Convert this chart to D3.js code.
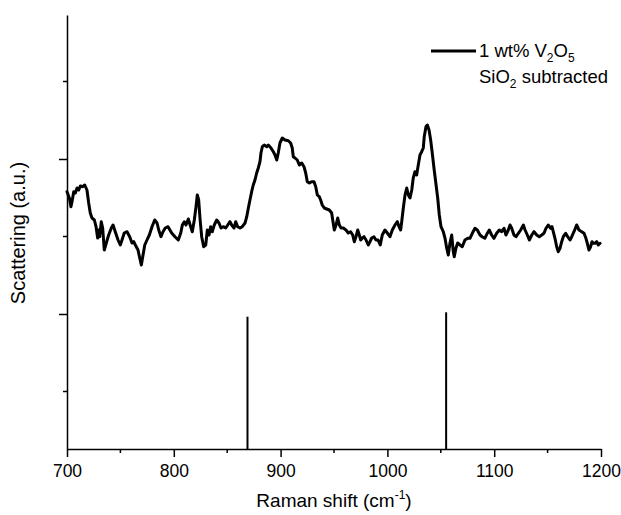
<!DOCTYPE html>
<html>
<head>
<meta charset="utf-8">
<script src="https://cdn.jsdelivr.net/npm/d3@7"></script>
<style>
  html, body { margin: 0; padding: 0; background: #fff; }
  svg { display: block; }
  text { font-family: "Liberation Sans", Arial, sans-serif; fill: #000; }
</style>
</head>
<body>
<svg id="chart" width="621" height="515"></svg>
<script>
// ---- data ----
const ramanShift = [700,702.2,703.7,704.7,706.3,707.8,709.4,711,712.5,714.7,716.6,718.7,720.3,721.8,723.4,725.6,727.2,728.7,729.7,730.6,732.1,733.4,734.9,736.8,739,741.5,743.1,745.2,747.8,749.9,751.5,753.6,756.2,758.7,760.9,762.5,764,766.5,768.1,769.6,771.2,772.8,774.9,777.1,779.6,782.1,784.3,785.9,788,789.9,792,794.6,798,801.1,804.2,806.5,808,809.8,811.4,813.6,815.8,817.3,819.2,820.8,822,823.3,824.5,826.1,828,829.9,831.4,833,834.5,836,837.9,840.2,842.3,844.2,846.3,848.6,850.5,852.6,854.2,856.4,858,859.8,862,864.1,866.7,868.3,869.8,871.3,872.9,874.4,876,877.6,879.1,880.7,881.6,882.9,884.7,887,888.5,891,893.2,894.8,896.4,897.8,899.4,901.6,904.1,907.2,909.4,910.9,911.9,913.5,915.6,917.5,919.8,921.9,923.5,925,926.9,929.1,931.3,932.9,934.4,936.2,937.5,939,940.9,943.2,945.6,947.8,948.8,950.3,951.9,953.5,955,956.6,958.7,961.2,963.4,965.6,967.5,969,970.6,972.2,973.7,975,976.5,978.1,980,982.1,983.7,985.3,987.4,989.3,991.2,993.3,995.2,997.7,999.9,1002.4,1004.6,1007.1,1009.3,1010.9,1012.4,1013.4,1014.9,1016.5,1018.1,1019.6,1021.2,1022.8,1024.2,1025.8,1027.4,1028.9,1030.5,1032.1,1033.6,1034.5,1036.1,1037.4,1039,1040.5,1042,1043.6,1045.2,1047.1,1048.6,1050.2,1052.3,1053.9,1055.5,1057,1058.6,1060.2,1061.7,1062.6,1064.2,1065.8,1068,1070.1,1072.6,1075.2,1077.3,1079.5,1082,1084.2,1086.7,1089,1091.2,1093.5,1095.4,1097.6,1099.8,1102.3,1104.8,1107,1109.2,1111,1113.2,1114.8,1116.4,1118.5,1120.4,1122.6,1124.8,1127.3,1128.9,1131,1132.9,1135.2,1137.3,1139.8,1142.2,1144.5,1146.6,1148.5,1150.6,1152.9,1154.1,1155.3,1156.9,1158.5,1160,1161.6,1163.2,1164.7,1166.9,1168.8,1171,1172.6,1174.7,1177.2,1179.4,1181.9,1184.1,1185.9,1187.2,1188.7,1190.3,1191.6,1192.8,1194.4,1196,1197.5,1199.1];
const scattering = [122.3,116,107.3,112.3,122.3,121,126,124,128,127.3,129,124,111,101,96,94,87.3,76,84,77.3,92.3,86,64,71,79,86,89,82.3,74,69,74,81,82.3,77.3,71,72.3,69,64,56,49,59,69,74,79,87.3,94,91,84,77.3,82.3,86,87.3,81,77.3,74,81,89,92.3,89,95,87.3,82.3,94,107.3,119,114,96,77.3,67.3,69,84,79,87.3,82.3,89,94,91,86,87.3,86,89,92.3,89,86,92.3,87.3,86,87.3,91,97.3,106,114,122.3,129,134,141,146,152.3,161,167.3,169,167.3,169,166,162.3,159,154,161,171,176,174,173.3,171,166,157.3,156,154,149,151,147.3,141,132.3,131,132.3,132.3,127.3,119,117.3,114,109,106,105,104,101,94,84,89,96,89,86,86,84,81,82.3,79,72.3,77.3,84,79,74,76,77.3,74,69,72.3,76,77.3,74,74,69,79,84,81,77.3,84,89,92.3,87.3,84,92.3,106,119,126,119,116,124,136,142.3,139,149,159,162.3,166,177.3,187.3,189,184,174,161,146,132.3,116,99,87.3,82.3,76,66,59,71,79,62.3,57.3,66,71,69,67.3,74,75.7,75.7,80.7,85.7,84,79,77,75.7,80.7,84,79,75.7,80.7,84,82.3,85.7,79,84,89,85.7,79,77.3,80.7,84,89,84,79,74,79,82.3,79,77.3,79,80.7,85.7,89,85.7,87.3,82.3,75.7,67.3,62.3,65.7,72.3,77.3,80.7,77.3,74,77.3,82.3,89,84,82.3,80.7,75.7,70.7,64,67.3,72.3,70.7,70.7,72.3,69,70.7];
// reference bulk V2O5 band positions (stick lines) and their heights
const stickShift = [869, 1055];
const stickHeight = [-2.7, 1.7];
const xTicksMajor = [700, 800, 900, 1000, 1100, 1200];
const xTicksMinor = [750, 850, 950, 1050, 1150];
const yTicksMajor = [0, 155];
const yTicksMinor = [-77.5, 77.5, 232.5];
const xDomain = [700, 1200];
const yDomain = [-135, 299];
const legendLine1 = ["1 wt% V", "2", "O", "5"];
const legendLine2 = ["SiO", "2", " subtracted"];

// ---- drawing ----
const svg = d3.select("#chart");
const x = d3.scaleLinear().domain(xDomain).range([67, 601]);
const y = d3.scaleLinear().domain(yDomain).range([449, 15]);

// plot data
const pts = ramanShift.map((d, i) => [d, scattering[i]]);
const line = d3.line().x(d => x(d[0])).y(d => y(d[1]));
svg.append("path")
  .datum(pts)
  .attr("d", line)
  .attr("fill", "none")
  .attr("stroke", "#000")
  .attr("stroke-width", 3)
  .attr("stroke-linejoin", "round")
  .attr("stroke-linecap", "round");

// sticks
svg.selectAll("line.stick")
  .data(stickShift)
  .enter().append("line")
  .attr("class", "stick")
  .attr("x1", d => x(d)).attr("x2", d => x(d))
  .attr("y1", y(yDomain[0]))
  .attr("y2", (d, i) => y(stickHeight[i]))
  .attr("stroke", "#000")
  .attr("stroke-width", 2);

// x axis
const xAxisG = svg.append("g").attr("transform", `translate(0,${y(yDomain[0])})`);
xAxisG.call(d3.axisBottom(x).tickValues(xTicksMajor).tickSize(8).tickSizeOuter(0).tickFormat(d3.format("d")));
xAxisG.selectAll("line.minor").data(xTicksMinor).enter().append("line")
  .attr("class", "minor")
  .attr("x1", d => x(d)).attr("x2", d => x(d))
  .attr("y1", 0).attr("y2", 4)
  .attr("stroke", "#000").attr("stroke-width", 1.5);
xAxisG.select(".domain").attr("stroke-width", 1.5);
xAxisG.selectAll(".tick line").attr("stroke-width", 1.5);
xAxisG.selectAll(".tick text")
  .attr("font-size", 17.5)
  .attr("font-family", "Liberation Sans, Arial, sans-serif")
  .attr("dy", "0.75em")
  .attr("y", 15);

// y axis
const yAxisG = svg.append("g").attr("transform", `translate(${x(xDomain[0])},0)`);
yAxisG.call(d3.axisLeft(y).tickValues(yTicksMajor).tickSize(8).tickSizeOuter(0).tickFormat(""));
yAxisG.selectAll("line.minor").data(yTicksMinor).enter().append("line")
  .attr("class", "minor")
  .attr("x1", 0).attr("x2", -4)
  .attr("y1", d => y(d)).attr("y2", d => y(d))
  .attr("stroke", "#000").attr("stroke-width", 1.5);
yAxisG.select(".domain").attr("stroke-width", 1.5);
yAxisG.selectAll(".tick line").attr("stroke-width", 1.5);

// axis titles
const xt = svg.append("text")
  .attr("x", 334).attr("y", 507)
  .attr("text-anchor", "middle")
  .attr("font-size", 19);
xt.append("tspan").text("Raman shift (cm");
xt.append("tspan").attr("font-size", 12).attr("dy", -8).text("-1");
xt.append("tspan").attr("dy", 8).text(")");

svg.append("text")
  .attr("transform", "translate(25,233) rotate(-90)")
  .attr("text-anchor", "middle")
  .attr("font-size", 20)
  .text("Scattering (a.u.)");

// legend
svg.append("line")
  .attr("x1", 431).attr("x2", 476)
  .attr("y1", 51).attr("y2", 51)
  .attr("stroke", "#000").attr("stroke-width", 3);
const l1 = svg.append("text").attr("x", 479).attr("y", 57).attr("font-size", 18.5);
l1.append("tspan").text(legendLine1[0]);
l1.append("tspan").attr("font-size", 12).attr("dy", 5).text(legendLine1[1]);
l1.append("tspan").attr("dy", -5).text(legendLine1[2]);
l1.append("tspan").attr("font-size", 12).attr("dy", 5).text(legendLine1[3]);
const l2 = svg.append("text").attr("x", 479).attr("y", 83).attr("font-size", 18.5);
l2.append("tspan").text(legendLine2[0]);
l2.append("tspan").attr("font-size", 12).attr("dy", 5).text(legendLine2[1]);
l2.append("tspan").attr("dy", -5).text(legendLine2[2]);
</script>
</body>
</html>
